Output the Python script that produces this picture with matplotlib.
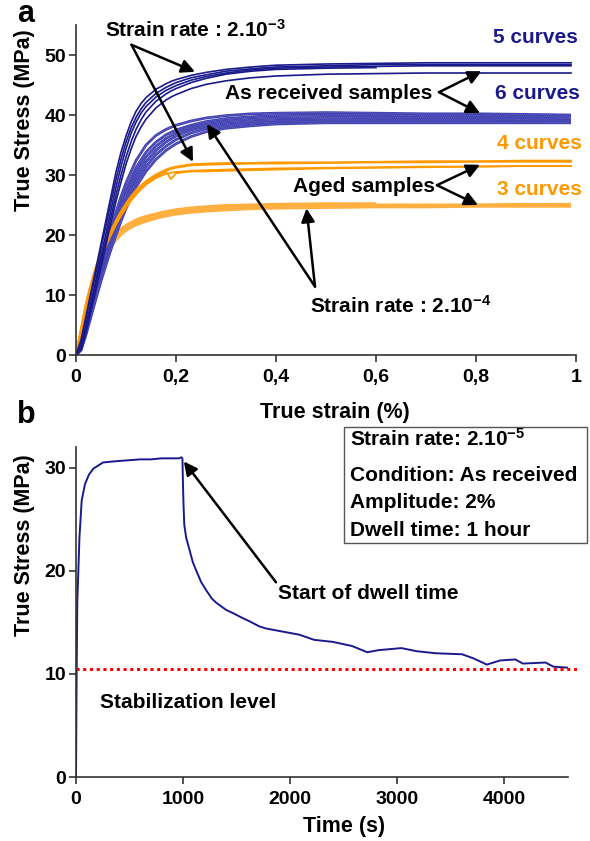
import matplotlib
matplotlib.use('Agg')
import matplotlib.pyplot as plt
from matplotlib.patches import Rectangle

plt.rcParams['font.family'] = ['Liberation Sans', 'DejaVu Sans']
plt.rcParams['font.weight'] = 'bold'
plt.rcParams['mathtext.fontset'] = 'custom'
plt.rcParams['mathtext.rm'] = 'Liberation Sans:bold'
plt.rcParams['mathtext.bf'] = 'Liberation Sans:bold'
plt.rcParams['mathtext.default'] = 'bf'

# ---- panel a : tensile curves (true strain %, true stress MPa) ----
strain_fast = [0, 0.01, 0.02, 0.03, 0.04, 0.05, 0.06, 0.07, 0.08, 0.09, 0.10, 0.11, 0.12, 0.13,
               0.14, 0.16, 0.18, 0.19, 0.20, 0.23, 0.26, 0.30, 0.35, 0.40, 0.50, 0.60, 0.70,
               0.80, 0.90, 0.99]
strain_slow = [0, 0.01, 0.02, 0.03, 0.04, 0.05, 0.06, 0.07, 0.08, 0.09, 0.10, 0.12, 0.14, 0.16,
               0.18, 0.20, 0.23, 0.26, 0.30, 0.35, 0.40, 0.50, 0.60, 0.70, 0.80, 0.90, 0.99]

# as received, strain rate 2.10-3 (5 curves)
recv_fast = [
    [0, 2.5, 6.5, 10.5, 14.5, 18.5, 22.5, 26.5, 30.5, 33.8, 36.5, 38.8, 40.6, 41.9, 42.9, 44.3,
     45.2, 45.6, 45.9, 46.6, 47.1, 47.6, 48.0, 48.3, 48.5, 48.6, 48.7, 48.7, 48.7, 48.7],
    [0, 2.0, 6.0, 10.0, 13.8, 17.8, 21.6, 25.5, 29.3, 32.6, 35.5, 37.8, 39.6, 41.0, 42.1, 43.6,
     44.6, 45.0, 45.4, 46.2, 46.7, 47.3, 47.7, 48.0, 48.2, 48.4, 48.4, 48.4, 48.4, 48.4],
    [0, 1.5, 5.0, 8.8, 12.6, 16.5, 20.3, 24.2, 28.0, 31.4, 34.4, 36.9, 38.8, 40.3, 41.4, 43.0,
     44.1, 44.5, 44.9, 45.8, 46.4, 47.0, 47.5, 47.8, 48.0, 48.1, 48.2, 48.2, 48.2, 48.2],
    [0, 1.0, 4.2, 8.0, 11.8, 15.6, 19.3, 23.0, 26.7, 30.0, 33.0, 35.5, 37.6, 39.2, 40.5, 42.3,
     43.5, 44.0, 44.4, 45.4, 46.1, 46.8, 47.3, 47.6, 47.8, 47.9],
    [0, 0.8, 3.7, 7.3, 11.0, 14.7, 18.4, 22.0, 25.6, 28.8, 31.8, 34.3, 36.4, 38.0, 39.3, 41.2,
     42.5, 43.0, 43.4, 44.4, 45.1, 45.7, 46.2, 46.5, 46.8, 46.9, 47.0, 47.0, 47.0, 47.0],
]
# aged, strain rate 2.10-3 (4 curves)
aged_fast = [
    [0, 4.5, 8.8, 12.0, 14.8, 17.0, 19.0, 20.8, 22.5, 24.0, 25.3, 26.5, 27.5, 28.3, 29.0, 30.1,
     30.9, 31.2, 31.4, 31.8, 31.9, 32.0, 32.0, 32.1, 32.1, 32.2, 32.3, 32.3, 32.4, 32.4],
    [0, 4.3, 8.5, 11.7, 14.5, 16.7, 18.7, 20.5, 22.2, 23.7, 25.0, 26.2, 27.2, 28.0, 28.8, 29.9,
     30.7, 31.0, 31.2, 31.6, 31.7, 31.8, 31.9, 31.9, 32.0, 32.1, 32.1, 32.2, 32.2, 32.2],
    [0, 4.0, 8.2, 11.4, 14.2, 16.4, 18.4, 20.2, 21.9, 23.4, 24.7, 25.9, 26.9, 27.8, 28.6, 29.7,
     30.6, 29.3, 30.3, 30.6, 30.6, 30.7, 30.8, 30.9, 31.1, 31.2, 31.3, 31.4, 31.5, 31.5],
    [0, 3.8, 8.0, 11.2, 14.0, 16.2, 18.2, 20.0, 21.7, 23.2, 24.5, 25.7, 26.7, 27.6, 28.4, 29.5,
     30.2, 30.4, 30.5, 30.7, 30.8, 30.9, 31.0, 31.1, 31.2, 31.3, 31.4, 31.4, 31.5, 31.5],
]
# as received, strain rate 2.10-4 (6 curves)
recv_slow = [
    [0, 1.5, 4.5, 8.0, 11.5, 14.8, 18.0, 21.0, 23.8, 26.4, 28.7, 32.4, 35.0, 36.6, 37.6, 38.3,
     39.0, 39.5, 39.9, 40.2, 40.3, 40.4, 40.3, 40.2, 40.2, 40.1, 40.0],
    [0, 1.3, 4.2, 7.6, 11.0, 14.2, 17.3, 20.2, 22.9, 25.4, 27.6, 31.2, 33.8, 35.5, 36.7, 37.5,
     38.3, 38.9, 39.4, 39.7, 39.9, 40.0, 40.0, 39.9, 39.9, 39.8, 39.8],
    [0, 1.2, 4.0, 7.3, 10.6, 13.8, 16.8, 19.6, 22.2, 24.6, 26.8, 30.4, 33.0, 34.8, 36.1, 37.0,
     37.9, 38.5, 39.0, 39.3, 39.5, 39.6, 39.6, 39.6, 39.5, 39.5, 39.4],
    [0, 1.0, 3.8, 7.0, 10.2, 13.3, 16.2, 18.9, 21.4, 23.8, 26.0, 29.6, 32.2, 34.1, 35.5, 36.5,
     37.5, 38.1, 38.6, 38.9, 39.1, 39.2, 39.3, 39.3, 39.2, 39.2, 39.1],
    [0, 0.9, 3.6, 6.7, 9.8, 12.8, 15.6, 18.2, 20.7, 23.0, 25.2, 28.8, 31.4, 33.4, 34.8, 35.9,
     37.0, 37.7, 38.2, 38.6, 38.8, 39.0, 39.0, 39.0, 39.0, 38.9, 38.9],
    [0, 0.8, 3.4, 6.4, 9.4, 12.3, 15.0, 17.6, 20.0, 22.3, 24.4, 28.0, 30.6, 32.6, 34.1, 35.2,
     36.4, 37.2, 37.8, 38.2, 38.5, 38.7, 38.7, 38.7, 38.7, 38.7, 38.7],
]
# aged, strain rate 2.10-4 (3 curves)
aged_slow = [
    [0, 3.8, 7.5, 10.8, 13.6, 15.9, 17.7, 19.1, 20.2, 21.0, 21.6, 22.5, 23.1, 23.5, 23.9, 24.2,
     24.5, 24.7, 24.9, 25.0, 25.1, 25.2, 25.2],
    [0, 3.6, 7.2, 10.4, 13.1, 15.3, 17.1, 18.6, 19.7, 20.6, 21.2, 22.1, 22.7, 23.2, 23.6, 23.9,
     24.2, 24.4, 24.6, 24.7, 24.8, 24.9, 25.0, 25.0, 25.0, 25.1, 25.1],
    [0, 3.4, 6.9, 10.0, 12.7, 14.9, 16.7, 18.1, 19.2, 20.1, 20.8, 21.7, 22.3, 22.8, 23.2, 23.5,
     23.8, 24.0, 24.2, 24.4, 24.5, 24.6, 24.7, 24.7, 24.8, 24.8, 24.8],
]
strain_ticks = [0, 0.2, 0.4, 0.6, 0.8, 1.0]
strain_labels = ['0', '0,2', '0,4', '0,6', '0,8', '1']
stress_ticks_a = [0, 10, 20, 30, 40, 50]

# ---- panel b : relaxation test (time s, true stress MPa) ----
time_s = [0, 3, 6, 12, 22, 32, 53, 84, 120, 162, 253, 350, 472, 600, 700, 800, 900, 963, 985,
          995, 1000, 1005, 1012, 1030, 1062, 1093, 1125, 1170, 1218, 1270, 1311, 1404, 1466,
          1560, 1622, 1715, 1777, 1932, 2088, 2226, 2403, 2581, 2723, 2829, 3042, 3184, 3362,
          3610, 3717, 3841, 3965, 4107, 4178, 4391, 4462, 4604]
stress_b = [0, 5, 10, 17, 20, 23.2, 26.8, 28.4, 29.3, 29.9, 30.5, 30.6, 30.7, 30.8, 30.8, 30.9,
            30.9, 30.9, 31.0, 30.9, 28.5, 26.5, 24.5, 23.2, 22.0, 20.8, 20.0, 18.9, 18.1, 17.3,
            16.9, 16.2, 15.9, 15.4, 15.1, 14.6, 14.4, 14.1, 13.8, 13.3, 13.1, 12.7, 12.1, 12.3,
            12.5, 12.2, 12.0, 11.9, 11.5, 10.9, 11.3, 11.4, 11.0, 11.1, 10.7, 10.6]
stab_level = 10.5
stab_span = [0, 4711]
time_ticks = [0, 1000, 2000, 3000, 4000]
stress_ticks_b = [0, 10, 20, 30]
info_lines = ['Strain rate: 2.10$^{-5}$', 'Condition: As received', 'Amplitude: 2%',
              'Dwell time: 1 hour']

navy = '#1a1a8c'
blue = '#4343b3'
orange = '#ff9900'
light_orange = '#ffad3a'
W, H = 590, 841


def px_box(l, t, r, b):
    return [l / W, 1 - b / H, (r - l) / W, (b - t) / H]


def style_axis(ax):
    for s in ['top', 'right']:
        ax.spines[s].set_visible(False)
    for s in ['left', 'bottom']:
        ax.spines[s].set_color('#333333')
        ax.spines[s].set_linewidth(1.2)
    ax.tick_params(direction='out', length=5, width=1.2, color='#333333', labelsize=14)
    ax.tick_params(axis='y', pad=2)
    ax.tick_params(axis='x', pad=5)


fig = plt.figure(figsize=(5.9, 8.41), dpi=100)

# panel a
ax1 = fig.add_axes(px_box(76, 25, 576, 355))
for ys in aged_slow:
    ax1.plot(strain_slow[:len(ys)], ys, color=light_orange, lw=2.2, solid_capstyle='butt')
    ax1.plot(strain_slow[:len(ys)], ys, color='white', lw=0.5, alpha=0.35, ls=(0, (1, 2)))
for ys in recv_slow:
    ax1.plot(strain_slow[:len(ys)], ys, color=blue, lw=2.0, solid_capstyle='butt')
    ax1.plot(strain_slow[:len(ys)], ys, color='white', lw=0.5, alpha=0.35, ls=(0, (1, 2)))
for ys in aged_fast:
    ax1.plot(strain_fast[:len(ys)], ys, color=orange, lw=1.3)
for ys in recv_fast:
    ax1.plot(strain_fast[:len(ys)], ys, color=navy, lw=1.2)

ax1.set_xlim(0, 1)
ax1.set_ylim(0, 55)
ax1.set_xticks(strain_ticks)
ax1.set_xticklabels(strain_labels)
ax1.set_yticks(stress_ticks_a)
style_axis(ax1)

arrow = dict(arrowstyle='-|>', color='black', lw=1.8, mutation_scale=20,
             shrinkA=0, shrinkB=0)
ax1.text(0.058, 53.0, 'Strain rate : 2.10$^{-3}$', fontsize=15, ha='left', va='baseline')
for tip in [(0.238, 47.2), (0.234, 32.2)]:
    ax1.annotate('', xy=tip, xytext=(0.111, 51.7), arrowprops=arrow)
ax1.text(0.298, 42.6, 'As received samples', fontsize=15, ha='left', va='baseline')
for tip in [(0.811, 47.3), (0.808, 40.3)]:
    ax1.annotate('', xy=tip, xytext=(0.726, 43.8), arrowprops=arrow)
ax1.text(0.434, 27.2, 'Aged samples', fontsize=15, ha='left', va='baseline')
for tip in [(0.808, 31.7), (0.804, 25.0)]:
    ax1.annotate('', xy=tip, xytext=(0.722, 28.3), arrowprops=arrow)
ax1.text(0.468, 7.05, 'Strain rate : 2.10$^{-4}$', fontsize=15, ha='left', va='baseline')
for tip in [(0.461, 24.45), (0.262, 38.5)]:
    ax1.annotate('', xy=tip, xytext=(0.478, 11.4), arrowprops=arrow)

ax1.text(1.004, 52.05, '5 curves', color=navy, fontsize=15, ha='right', va='baseline', clip_on=False)
ax1.text(1.008, 42.6, '6 curves', color=navy, fontsize=15, ha='right', va='baseline', clip_on=False)
ax1.text(1.011, 34.3, '4 curves', color=orange, fontsize=15, ha='right', va='baseline', clip_on=False)
ax1.text(1.011, 26.7, '3 curves', color=orange, fontsize=15, ha='right', va='baseline', clip_on=False)

# panel b
ax2 = fig.add_axes(px_box(76, 447, 568, 777))
ax2.plot(time_s, stress_b, color=navy, lw=1.4)
ax2.plot(stab_span, [stab_level, stab_level], color='#ff0000', lw=2.2,
         ls=(0, (1, 1.2)), clip_on=False)
ax2.set_xlim(0, 4600)
ax2.set_ylim(0, 32)
ax2.set_xticks(time_ticks)
ax2.set_yticks(stress_ticks_b)
style_axis(ax2)

ax2.text(1892, 17.27, 'Start of dwell time', fontsize=15, ha='left', va='baseline')
ax2.annotate('', xy=(1008, 30.6), xytext=(1870, 18.88), arrowprops=arrow)
ax2.text(224, 6.68, 'Stabilization level', fontsize=15, ha='left', va='baseline')

fig.add_artist(Rectangle((344 / W, 1 - 543 / H), 243 / W, 116 / H, transform=fig.transFigure,
                         facecolor='white', edgecolor='#555555', lw=1.0))
for txt, base in zip(info_lines, [446, 480.7, 508.3, 536]):
    fig.text(350 / W, 1 - base / H, txt, fontsize=15, ha='left', va='baseline')

# axis labels and panel letters
fig.text(25 / W, 1 - 120 / H, 'True Stress (MPa)', fontsize=15.5, rotation=90,
         ha='center', va='center')
fig.text(25 / W, 1 - 545 / H, 'True Stress (MPa)', fontsize=15.5, rotation=90,
         ha='center', va='center')
fig.text(335 / W, 1 - 418 / H, 'True strain (%)', fontsize=15.5, ha='center', va='baseline')
fig.text(344 / W, 1 - 832 / H, 'Time (s)', fontsize=15.5, ha='center', va='baseline')
fig.text(17 / W, 1 - 22 / H, 'a', fontsize=22, ha='left', va='baseline')
fig.text(17 / W, 1 - 423 / H, 'b', fontsize=22, ha='left', va='baseline')

fig.savefig('out.png', dpi=100)
